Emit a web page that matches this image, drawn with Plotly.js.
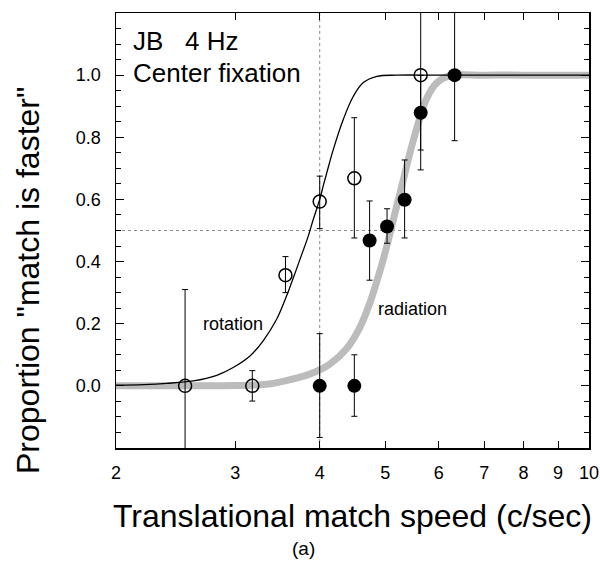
<!DOCTYPE html>
<html>
<head>
<meta charset="utf-8">
<script src="https://cdn.plot.ly/plotly-3.0.1.min.js"></script>
<style>html,body{margin:0;padding:0;background:#fff;}</style>
</head>
<body>
<div id="chart" style="width:600px;height:570px;"></div>
<script>
// ---- data ----
var xTickVals = [2, 3, 4, 5, 6, 7, 8, 9, 10];
var xTickText = ["2", "3", "4", "5", "6", "7", "8", "9", "10"];
var yTickVals = [0, 0.2, 0.4, 0.6, 0.8, 1.0];
var yTickText = ["0.0", "0.2", "0.4", "0.6", "0.8", "1.0"];

// rotation (open circles)
var rotX = [2.53, 3.18, 3.56, 4.0, 4.5, 5.64];
var rotY = [0, 0, 0.356, 0.593, 0.668, 1.0];
var rotErrPlus = [0.31, 0.049, 0.06, 0.082, 0.195, 0.4];
var rotErrMinus = [0.31, 0.049, 0.056, 0.087, 0.192, 0.241];

// radiation (filled circles)
var radX = [4.0, 4.5, 4.74, 5.03, 5.34, 5.64, 6.33];
var radY = [0, 0, 0.468, 0.513, 0.599, 0.879, 1.0];
var radErrPlus = [0.168, 0.1, 0.127, 0.057, 0.128, 0.12, 0.4];
var radErrMinus = [0.166, 0.098, 0.128, 0.054, 0.123, 0.184, 0.211];

// fitted curves
var rotCurveX = [2.0, 2.2, 2.376, 2.602, 2.818, 2.98, 3.155, 3.30, 3.456, 3.574, 3.615, 3.74, 3.847, 3.914, 4.0, 4.05, 4.10, 4.19, 4.335, 4.485, 4.64, 4.86, 5.2, 6.0, 8.0, 10.0];
var rotCurveY = [0.002, 0.004, 0.008, 0.016, 0.034, 0.059, 0.096, 0.145, 0.215, 0.29, 0.318, 0.407, 0.482, 0.536, 0.60, 0.645, 0.688, 0.761, 0.858, 0.932, 0.976, 0.996, 1.0, 1.0, 1.0, 1.0];
var radCurveX = [2.0, 2.6, 3.0, 3.34, 3.615, 3.87, 4.14, 4.385, 4.59, 4.75, 4.80, 4.97, 5.08, 5.20, 5.32, 5.38, 5.50, 5.63, 5.755, 5.955, 6.2, 7.0, 8.0, 10.0];
var radCurveY = [0, 0, 0.001, 0.005, 0.02, 0.038, 0.07, 0.12, 0.19, 0.27, 0.30, 0.41, 0.49, 0.58, 0.665, 0.71, 0.79, 0.865, 0.925, 0.975, 0.997, 1, 1, 1];

var refX = 4;      // vertical reference line
var refY = 0.5;    // horizontal reference line

var FONT = "Liberation Sans, Arial, Helvetica, sans-serif";

var traces = [
  {x: radCurveX, y: radCurveY, type: "scatter", mode: "lines",
   line: {color: "#bcbcbc", width: 7, shape: "spline", smoothing: 1}, hoverinfo: "skip", showlegend: false},
  {x: rotCurveX, y: rotCurveY, type: "scatter", mode: "lines",
   line: {color: "#000", width: 1.3, shape: "spline", smoothing: 1}, hoverinfo: "skip", showlegend: false},
  {x: radX, y: radY, type: "scatter", mode: "markers", name: "radiation",
   marker: {symbol: "circle", size: 14, color: "#000"},
   error_y: {type: "data", symmetric: false, array: radErrPlus, arrayminus: radErrMinus, color: "#000", thickness: 1, width: 3},
   showlegend: false},
  {x: rotX, y: rotY, type: "scatter", mode: "markers", name: "rotation",
   marker: {symbol: "circle-open", size: 13, color: "#000", line: {width: 1.5, color: "#000"}},
   error_y: {type: "data", symmetric: false, array: rotErrPlus, arrayminus: rotErrMinus, color: "#000", thickness: 1, width: 3},
   showlegend: false}
];

var layout = {
  width: 600, height: 570,
  margin: {l: 116, r: 11, t: 13, b: 122, pad: 0},
  paper_bgcolor: "#fff", plot_bgcolor: "#fff",
  font: {family: FONT, color: "#000"},
  showlegend: false,
  xaxis: {
    type: "log", range: [Math.log10(2), 1],
    tickmode: "array", tickvals: xTickVals, ticktext: xTickText,
    ticks: "inside", ticklen: 7, tickwidth: 1, tickcolor: "#000",
    showline: true, linecolor: "#000", linewidth: 1.5, mirror: "ticks",
    showgrid: false, zeroline: false,
    tickfont: {size: 18, family: FONT, color: "#000"},
    ticklabelstandoff: 8,
    title: {text: "Translational match speed (c/sec)", font: {size: 32, family: FONT, color: "#000"}, standoff: 22}
  },
  yaxis: {
    range: [-0.2, 1.2],
    tickmode: "array", tickvals: yTickVals, ticktext: yTickText,
    ticks: "inside", ticklen: 8, tickwidth: 1, tickcolor: "#000",
    minor: {tickmode: "linear", tick0: 0, dtick: 0.05, ticks: "inside", ticklen: 5, tickcolor: "#000", showgrid: false},
    showline: true, linecolor: "#000", linewidth: 1.5, mirror: "ticks",
    showgrid: false, zeroline: false,
    tickfont: {size: 18, family: FONT, color: "#000"},
    ticklabelstandoff: 10
  },
  shapes: [
    {type: "line", xref: "x", yref: "paper", x0: refX, x1: refX, y0: 0, y1: 1, layer: "below",
     line: {color: "#8a8a8a", width: 1, dash: "dot"}},
    {type: "line", xref: "paper", yref: "y", x0: 0, x1: 1, y0: refY, y1: refY, layer: "below",
     line: {color: "#8a8a8a", width: 1, dash: "dot"}}
  ],
  annotations: [
    {text: "Proportion \"match is faster\"", xref: "paper", yref: "paper", x: -0.186, y: 0.384, textangle: -90, xanchor: "center", yanchor: "middle", showarrow: false, font: {size: 32, family: FONT, color: "#000"}},
    {text: "JB\u00a0\u00a0\u00a04 Hz", xref: "paper", yref: "paper", x: 0.032, y: 0.936, xanchor: "left", yanchor: "middle", showarrow: false, font: {size: 26, family: FONT, color: "#000"}},
    {text: "Center fixation", xref: "paper", yref: "paper", x: 0.032, y: 0.862, xanchor: "left", yanchor: "middle", showarrow: false, font: {size: 26, family: FONT, color: "#000"}},
    {text: "rotation", xref: "paper", yref: "paper", x: 0.247, y: 0.285, xanchor: "center", yanchor: "middle", showarrow: false, font: {size: 18, family: FONT, color: "#000"}},
    {text: "radiation", xref: "paper", yref: "paper", x: 0.626, y: 0.32, xanchor: "center", yanchor: "middle", showarrow: false, font: {size: 18, family: FONT, color: "#000"}},
    {text: "(a)", xref: "paper", yref: "paper", x: 0.397, y: -0.232, xanchor: "center", yanchor: "middle", showarrow: false, font: {size: 19, family: FONT, color: "#000"}}
  ]
};

Plotly.newPlot("chart", traces, layout, {displayModeBar: false, staticPlot: true});
</script>
</body>
</html>
